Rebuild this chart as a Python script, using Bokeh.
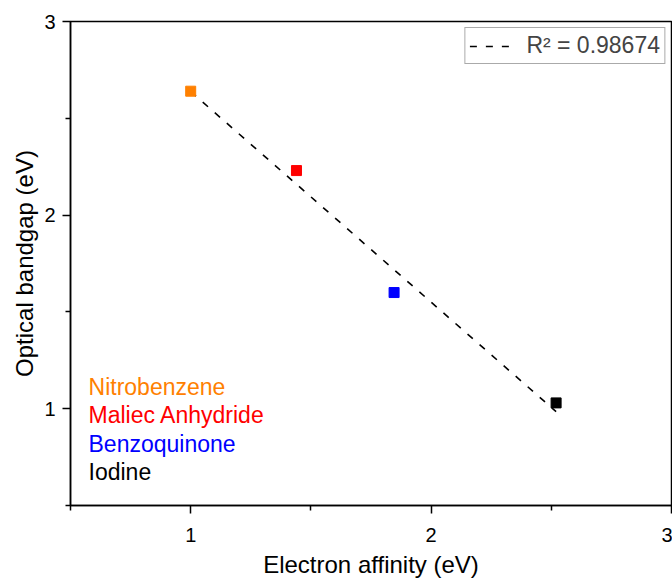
import numpy as np
from bokeh.plotting import figure
from bokeh.models import ColumnDataSource, FixedTicker, Label, Legend, LegendItem
from bokeh.embed import file_html
from bokeh.resources import INLINE

names = ["Nitrobenzene", "Maliec Anhydride", "Benzoquinone", "Iodine"]
electron_affinity = [1.0, 1.44, 1.846, 2.52]
optical_bandgap = [2.64, 2.23, 1.60, 1.03]
colors = ["#FF8000", "#FF0000", "#0000FF", "#000000"]
r2_label = "R\u00b2 = 0.98674"
x_ticks = [1, 2, 3]
y_ticks = [1, 2, 3]
minor_ticks = [0.5, 1.5, 2.5]

FONT = "Liberation Sans"

p = figure(width=672, height=580, x_range=(0.5, 3), y_range=(0.5, 3),
           output_backend="svg", toolbar_location=None,
           min_border_left=70, min_border_top=21, min_border_right=1, min_border_bottom=75)
p.grid.visible = False
p.outline_line_color = "black"
p.outline_line_width = 1.5
p.background_fill_color = "white"
p.border_fill_color = "white"

for ax, ticks in ((p.xaxis, x_ticks), (p.yaxis, y_ticks)):
    ax.ticker = FixedTicker(ticks=ticks, minor_ticks=minor_ticks)
    ax.axis_line_width = 1.5
    ax.major_tick_line_width = 1.5
    ax.minor_tick_line_width = 1.5
    ax.major_tick_out = 8
    ax.major_tick_in = 0
    ax.minor_tick_out = 5
    ax.minor_tick_in = 0
    ax.major_label_text_font = FONT
    ax.major_label_text_font_size = "20px"
    ax.major_label_text_color = "black"
    ax.axis_label_text_font = FONT
    ax.axis_label_text_font_size = "24px"
    ax.axis_label_text_font_style = "normal"
    ax.axis_label_text_color = "black"

p.xaxis.axis_label = "Electron affinity (eV)"
p.yaxis.axis_label = "Optical bandgap (eV)"
p.xaxis.major_label_standoff = 14
p.xaxis.axis_label_standoff = 6
p.yaxis.major_label_standoff = 7
p.yaxis.axis_label_standoff = 3

# linear fit
xa = np.array(electron_affinity)
ya = np.array(optical_bandgap)
m, b = np.polyfit(xa, ya, 1)
fx = np.array([xa.min(), xa.max()])
fit = p.line(fx, m * fx + b, line_color="black", line_width=1.6, line_dash="7 9")

src = ColumnDataSource(dict(x=electron_affinity, y=optical_bandgap, c=colors))
p.scatter("x", "y", source=src, marker="square", size=10, fill_color="c", line_color="c")

legend = Legend(items=[LegendItem(label=r2_label, renderers=[fit])], location="top_right")
legend.label_text_font = FONT
legend.label_text_font_size = "23px"
legend.glyph_width = 48
legend.border_line_color = "#555555"
legend.border_line_width = 1
legend.margin = 6
legend.padding = 4
legend.label_standoff = 9
p.add_layout(legend)

label_y = [1.113, 0.969, 0.82, 0.675]
for name, col, ly in zip(names, colors, label_y):
    p.add_layout(Label(x=0.575, y=ly, text=name, text_color=col, text_font=FONT,
                       text_font_size="23px", text_baseline="middle"))

open("out.html", "w").write(file_html(p, INLINE))
